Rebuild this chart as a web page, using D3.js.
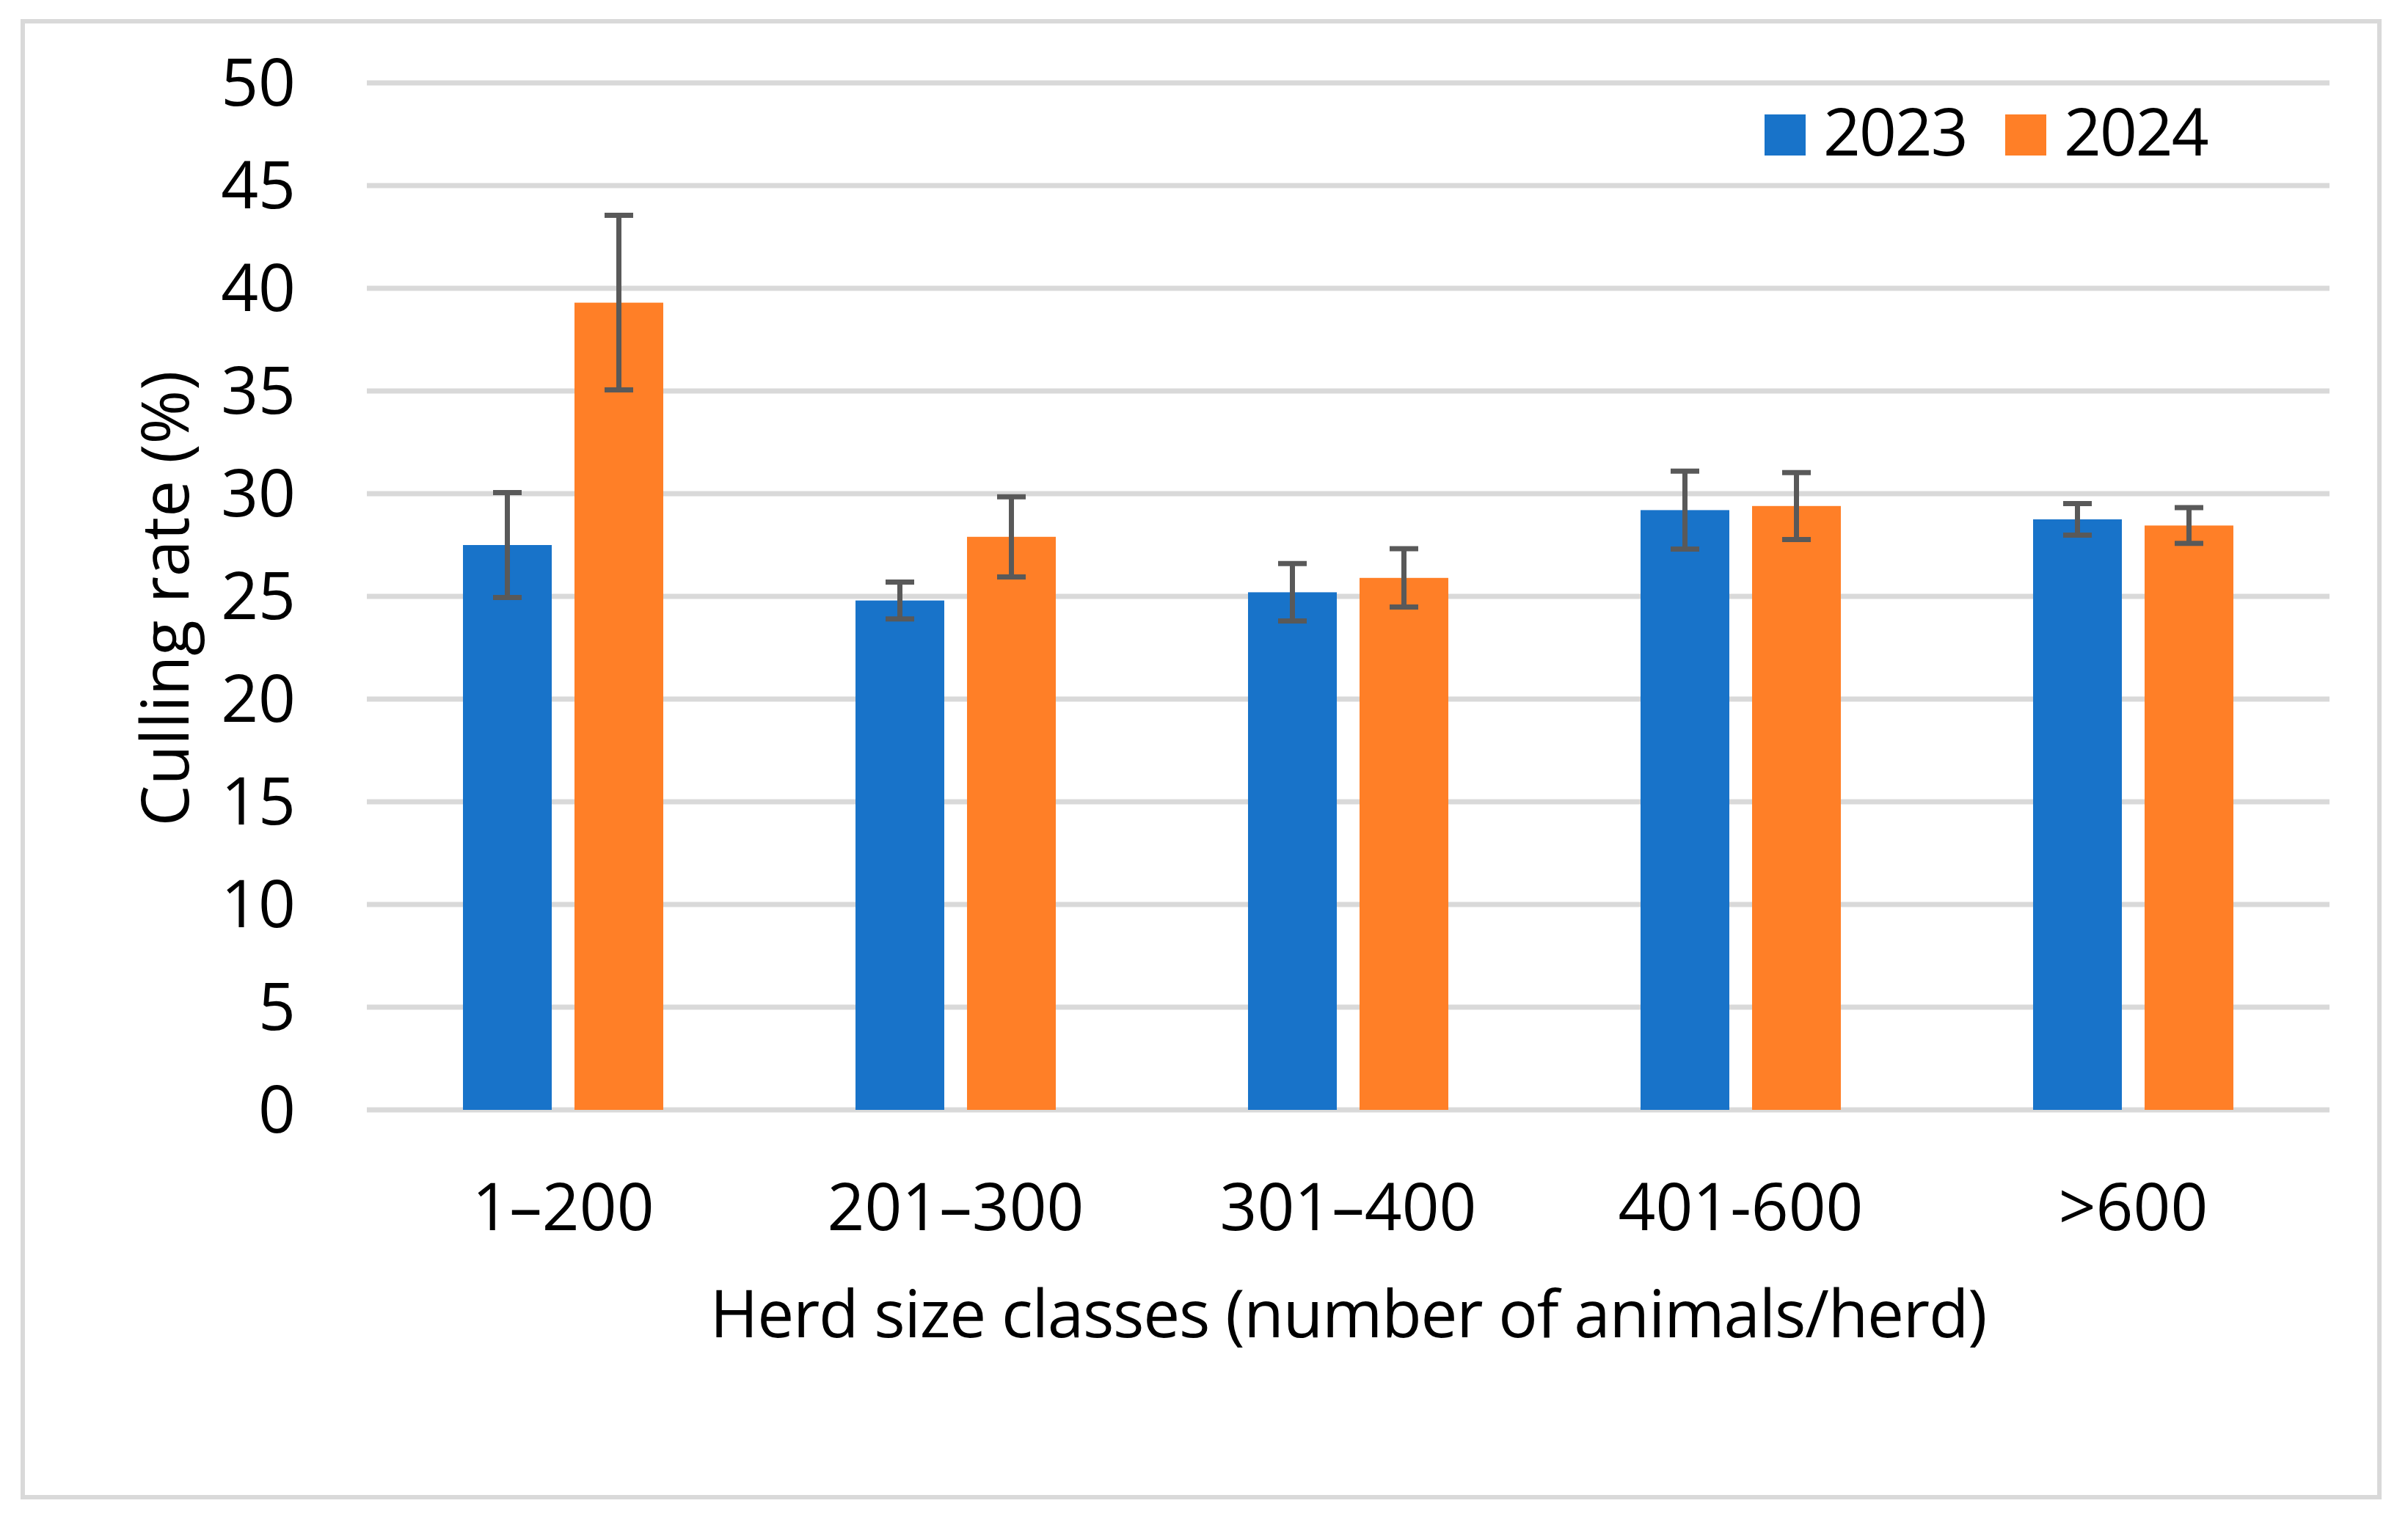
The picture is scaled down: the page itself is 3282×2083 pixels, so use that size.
<html>
<head>
  <title></title>
  <script src="https://d3js.org/d3.v7.min.js"></script>
  <style type="text/css">
  body {
    margin: 0;
    background: #fff;
  }
  text {
    font-family: "Open Sans", "Noto Sans", sans-serif;
    fill: #000;
  }
  </style>
</head>
<body>
  <div id="viz"></div>

<script type="text/javascript">

const WIDTH = 3282;
const HEIGHT = 2083;

const categories = ["1–200", "201–300", "301–400", "401-600", ">600"];
const seriesNames = ["2023", "2024"];
const values2023 = [27.5, 24.8, 25.2, 29.2, 28.75];
const values2024 = [39.3, 27.9, 25.9, 29.4, 28.45];
const sd2023 = [2.55, 0.9, 1.4, 1.9, 0.77];
const sd2024 = [4.25, 1.95, 1.42, 1.63, 0.87];
const yTicks = [0, 5, 10, 15, 20, 25, 30, 35, 40, 45, 50];

const colors = {
  "2023": "#1873c9",
  "2024": "#ff7f27"
};

const plot = {left: 500, right: 3175, top: 113, bottom: 1513};
const FONT = 89;

let svg = d3.select("#viz")
  .append("svg")
  .attr("width", WIDTH)
  .attr("height", HEIGHT)
  .style("background-color", "#fff");

// outer frame
svg.append("rect")
  .attr("x", 31)
  .attr("y", 29)
  .attr("width", 3212)
  .attr("height", 2012)
  .attr("fill", "none")
  .attr("stroke", "#d9d9d9")
  .attr("stroke-width", 6);

let x0 = d3.scaleBand()
  .domain(categories)
  .range([plot.left, plot.right]);

let x1 = d3.scaleBand()
  .domain(seriesNames)
  .range([0, x0.bandwidth()])
  .paddingInner(0.204)
  .paddingOuter(0.862);

let y = d3.scaleLinear()
  .domain([0, 50])
  .range([plot.bottom, plot.top]);

// gridlines
svg.selectAll(".grid")
  .data(yTicks)
  .enter().append("line")
  .attr("class", "grid")
  .attr("x1", plot.left)
  .attr("x2", plot.right)
  .attr("y1", d => y(d))
  .attr("y2", d => y(d))
  .style("stroke", "#d9d9d9")
  .style("stroke-width", 7);

// y tick labels
svg.selectAll(".ytick")
  .data(yTicks)
  .enter().append("text")
  .attr("class", "ytick")
  .attr("x", 403)
  .attr("y", d => y(d) + 31)
  .attr("text-anchor", "end")
  .style("font-size", FONT + "px")
  .text(d => d);

let rows = categories.map((c, i) => ({
  category: c,
  bars: [
    {series: "2023", value: values2023[i], sd: sd2023[i]},
    {series: "2024", value: values2024[i], sd: sd2024[i]}
  ]
}));

let groups = svg.selectAll(".group")
  .data(rows)
  .enter().append("g")
  .attr("class", "group")
  .attr("transform", d => `translate(${x0(d.category)},0)`);

groups.selectAll(".bar")
  .data(d => d.bars)
  .enter().append("rect")
  .attr("class", "bar")
  .attr("x", d => x1(d.series))
  .attr("width", x1.bandwidth())
  .attr("y", d => y(d.value))
  .attr("height", d => y(0) - y(d.value))
  .attr("fill", d => colors[d.series]);

// error bars
let err = groups.selectAll(".err")
  .data(d => d.bars)
  .enter().append("g")
  .attr("class", "err")
  .attr("transform", d => `translate(${x1(d.series) + x1.bandwidth() / 2},0)`)
  .style("stroke", "#595959")
  .style("stroke-width", 7);

err.append("line")
  .attr("y1", d => y(d.value + d.sd))
  .attr("y2", d => y(d.value - d.sd));

err.append("line")
  .attr("x1", -19.5)
  .attr("x2", 19.5)
  .attr("y1", d => y(d.value + d.sd))
  .attr("y2", d => y(d.value + d.sd));

err.append("line")
  .attr("x1", -19.5)
  .attr("x2", 19.5)
  .attr("y1", d => y(d.value - d.sd))
  .attr("y2", d => y(d.value - d.sd));

// x tick labels
svg.selectAll(".xtick")
  .data(categories)
  .enter().append("text")
  .attr("class", "xtick")
  .attr("x", d => x0(d) + x0.bandwidth() / 2)
  .attr("y", 1677)
  .attr("text-anchor", "middle")
  .style("font-size", FONT + "px")
  .text(d => d);

// axis titles
svg.append("text")
  .attr("x", (plot.left + plot.right) / 2)
  .attr("y", 1823)
  .attr("text-anchor", "middle")
  .style("font-size", FONT + "px")
  .style("letter-spacing", "-1.2px")
  .text("Herd size classes (number of animals/herd)");

svg.append("text")
  .attr("transform", "translate(257,816) rotate(-90)")
  .attr("text-anchor", "middle")
  .style("font-size", FONT + "px")
  .text("Culling rate (%)");

// legend
let legend = svg.selectAll(".legend")
  .data(seriesNames)
  .enter().append("g")
  .attr("class", "legend")
  .attr("transform", (d, i) => `translate(${2405 + i * 328},156)`);

legend.append("rect")
  .attr("width", 56)
  .attr("height", 56)
  .attr("fill", d => colors[d]);

legend.append("text")
  .attr("x", 80)
  .attr("y", 56)
  .style("font-size", FONT + "px")
  .style("letter-spacing", "-2px")
  .text(d => d);

</script>
</body>
</html>
